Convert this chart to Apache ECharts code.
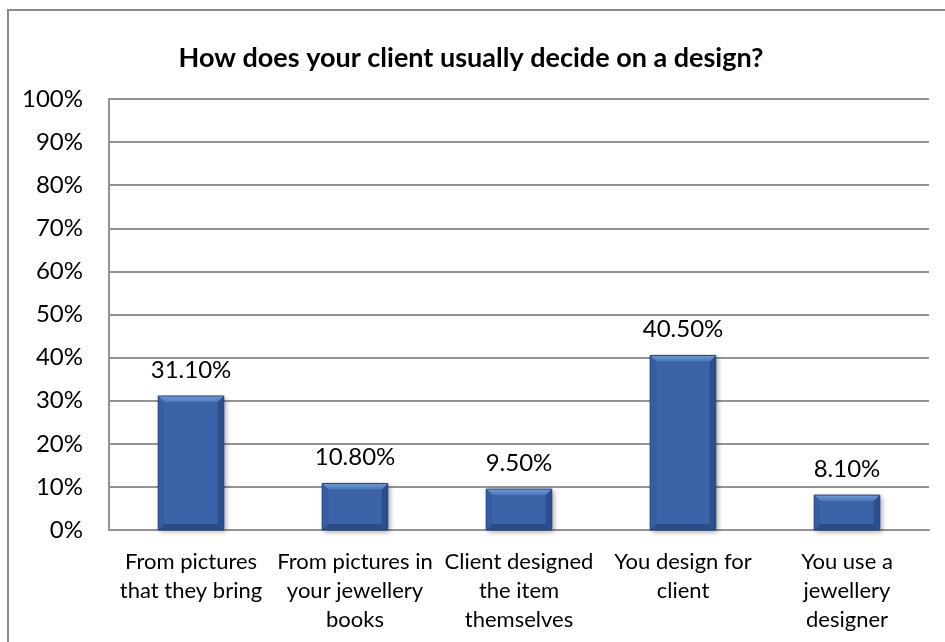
<!DOCTYPE html>
<html>
<head>
<meta charset="utf-8">
<style>
  html, body { margin: 0; padding: 0; background: #ffffff; }
  #chart { width: 945px; height: 642px; }
</style>
<script src="https://cdn.jsdelivr.net/npm/echarts@6/dist/echarts.min.js"></script>
</head>
<body>
<div id="chart"></div>
<script>
// Survey answers: how the client decides on a design
const chartTitle = 'How does your client usually decide on a design?';
const categories = [
  'From pictures\nthat they bring',
  'From pictures in\nyour jewellery\nbooks',
  'Client designed\nthe item\nthemselves',
  'You design for\nclient',
  'You use a\njewellery\ndesigner'
];
const shares = [31.1, 10.8, 9.5, 40.5, 8.1];
const yTicks = { min: 0, max: 100, step: 10 };

const FONT = 'Lato, "Open Sans", sans-serif';
const GRID_GRAY = '#939393';
const BAR_WIDTH_RATIO = 0.4;
const BEVEL = 6;

const chart = echarts.init(document.getElementById('chart'), null, { renderer: 'canvas' });

// Bevel overlay drawn on top of each bar, sized from the same value and axis
function renderBevel(params, api) {
  const idx = api.value(0);
  const val = api.value(1);
  const top = api.coord([idx, val]);
  const base = api.coord([idx, 0]);
  const w = api.size([1, 0])[0] * BAR_WIDTH_RATIO;
  const x0 = top[0] - w / 2, x1 = top[0] + w / 2;
  const y0 = top[1], y1 = base[1];
  const b = Math.min(BEVEL, (y1 - y0) / 2, w / 2);
  return {
    type: 'group',
    silent: true,
    children: [
      { // top facet
        type: 'polygon',
        shape: { points: [[x0, y0], [x1, y0], [x1 - b, y0 + b], [x0 + b, y0 + b]] },
        style: { fill: new echarts.graphic.LinearGradient(0, 0, 0, 1, [
          { offset: 0, color: '#7099d6' }, { offset: 1, color: '#4d77bb' }]) }
      },
      { // left facet
        type: 'polygon',
        shape: { points: [[x0, y0], [x0 + b, y0 + b], [x0 + b, y1 - b], [x0, y1]] },
        style: { fill: '#375ea0' }
      },
      { // right facet
        type: 'polygon',
        shape: { points: [[x1, y0], [x1, y1], [x1 - b, y1 - b], [x1 - b, y0 + b]] },
        style: { fill: '#2c4f8d' }
      },
      { // bottom facet
        type: 'polygon',
        shape: { points: [[x0, y1], [x0 + b, y1 - b], [x1 - b, y1 - b], [x1, y1]] },
        style: { fill: '#2b4c86' }
      },
      { // outline
        type: 'rect',
        shape: { x: x0, y: y0, width: w, height: y1 - y0 },
        style: { fill: null, stroke: '#27477c', lineWidth: 1 }
      }
    ]
  };
}

chart.setOption({
  animation: false,
  backgroundColor: '#ffffff',
  textStyle: { fontFamily: FONT, color: '#000000' },
  title: {
    text: chartTitle,
    left: 466,
    top: 36,
    textAlign: 'center',
    textStyle: { fontFamily: FONT, fontWeight: 'bold', fontSize: 27, lineHeight: 34, color: '#000000' }
  },
  graphic: [{
    type: 'rect',
    z: -10,
    silent: true,
    shape: { x: 8, y: 10, width: 1200, height: 1000 },
    style: { fill: 'transparent', stroke: '#8a8a8a', lineWidth: 2 }
  }],
  grid: { left: 109, top: 99, right: 16, bottom: 112, containLabel: false },
  xAxis: {
    type: 'category',
    data: categories,
    axisLine: { show: true, lineStyle: { color: GRID_GRAY, width: 2 } },
    axisTick: { show: false },
    axisLabel: {
      interval: 0,
      margin: 17,
      fontFamily: FONT,
      fontSize: 22,
      lineHeight: 29,
      color: '#000000',
      align: 'center'
    }
  },
  yAxis: {
    type: 'value',
    min: yTicks.min,
    max: yTicks.max,
    interval: yTicks.step,
    axisLine: { show: true, lineStyle: { color: GRID_GRAY, width: 2 } },
    axisTick: { show: false },
    splitLine: { show: true, lineStyle: { color: GRID_GRAY, width: 2 } },
    axisLabel: {
      margin: 26,
      fontFamily: FONT,
      fontSize: 24,
      color: '#000000',
      formatter: '{value}%'
    }
  },
  series: [
    {
      type: 'bar',
      data: shares,
      barWidth: (BAR_WIDTH_RATIO * 100) + '%',
      itemStyle: {
        color: '#3a63a8',
        shadowColor: 'rgba(0,0,0,0.35)',
        shadowBlur: 5,
        shadowOffsetX: 2,
        shadowOffsetY: 2
      },
      label: {
        show: true,
        position: 'top',
        distance: 14,
        fontFamily: FONT,
        fontSize: 24,
        color: '#000000',
        formatter: p => p.value.toFixed(2) + '%'
      },
      z: 2
    },
    {
      type: 'custom',
      data: shares.map((v, i) => [i, v]),
      renderItem: renderBevel,
      encode: { x: 0, y: 1 },
      z: 3
    }
  ]
});
</script>
</body>
</html>
